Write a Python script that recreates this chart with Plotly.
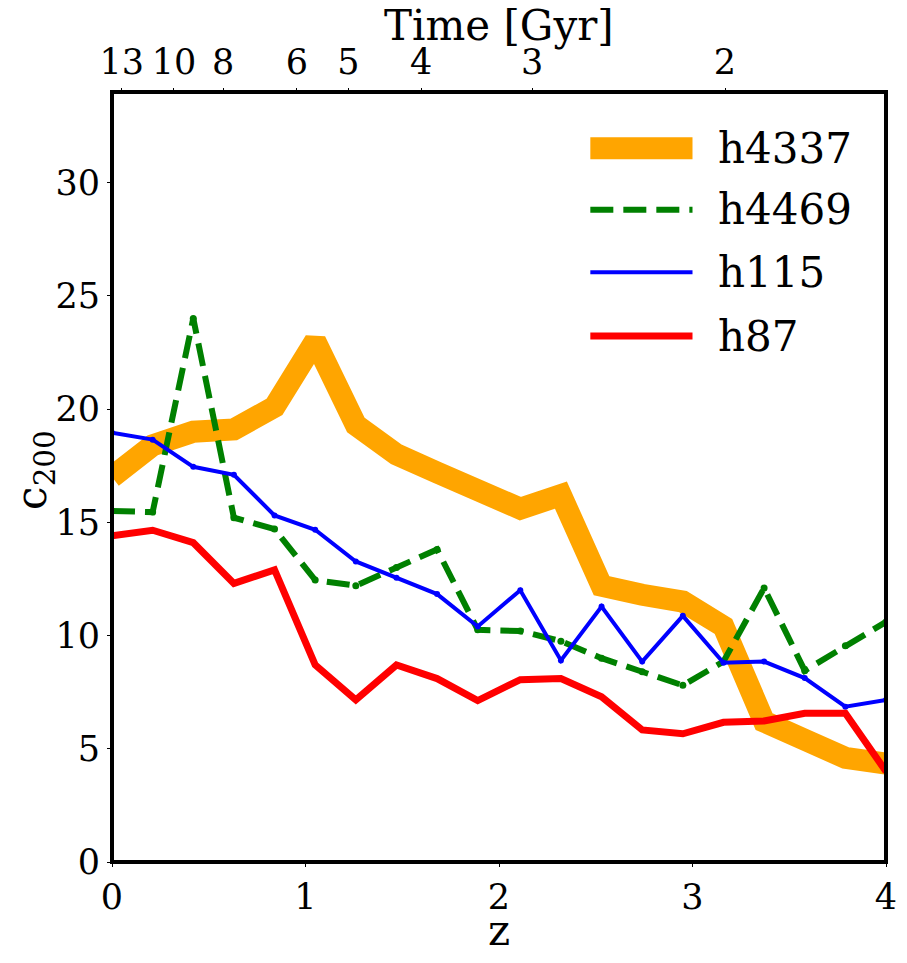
import plotly.graph_objects as go

# redshift of each snapshot
z = [0.0, 0.21, 0.42, 0.63, 0.84, 1.05, 1.26, 1.47, 1.68, 1.89,
     2.11, 2.32, 2.53, 2.74, 2.95, 3.16, 3.37, 3.58, 3.79, 4.0]

# concentration c200 for each halo
c_h4337 = [17.0, 18.4, 19.0, 19.1, 20.1, 23.0, 19.3, 18.0, 17.2, 16.4,
           15.6, 16.2, 12.2, 11.8, 11.5, 10.4, 6.2, 5.4, 4.6, 4.35]
c_h4469 = [15.5, 15.45, 24.0, 15.2, 14.7, 12.45, 12.2, 13.0, 13.8, 10.25,
           10.2, 9.75, 9.0, 8.4, 7.8, 8.85, 12.1, 8.45, 9.55, 10.6]
c_h115 = [18.95, 18.65, 17.45, 17.1, 15.3, 14.67, 13.27, 12.55, 11.83, 10.4,
          12.0, 8.9, 11.28, 8.85, 10.87, 8.8, 8.85, 8.12, 6.86, 7.15]
c_h87 = [14.4, 14.65, 14.1, 12.3, 12.9, 8.7, 7.16, 8.7, 8.1, 7.13,
         8.05, 8.1, 7.3, 5.83, 5.66, 6.17, 6.23, 6.57, 6.57, 4.0]

# top axis: cosmic time labels and the redshift where they sit
time_labels = ['13', '10', '8', '6', '5', '4', '3', '2']
time_z = [0.050, 0.320, 0.575, 0.955, 1.222, 1.597, 2.171, 3.168]

FONT = 'DejaVu Serif'

series = [
    ('h4337', c_h4337, dict(color='orange', width=22), None),
    ('h4469', c_h4469, dict(color='green', width=6, dash='23px,10px'), 7),
    ('h115', c_h115, dict(color='blue', width=4), 6),
    ('h87', c_h87, dict(color='red', width=7), None),
]

fig = go.Figure()
for name, vals, line, msize in series:
    fig.add_trace(go.Scatter(
        x=z, y=vals, name=name, line=line,
        mode='lines+markers' if msize else 'lines',
        marker=dict(size=msize or 1, color=line['color']),
        showlegend=False))

# invisible trace so the top axis gets drawn
fig.add_trace(go.Scatter(x=[0, 4], y=[None, None], xaxis='x2',
                         mode='lines', showlegend=False, hoverinfo='skip'))

# hand-made legend (long line samples like matplotlib)
shapes = []
annotations = []
leg_y = [0.927, 0.847, 0.766, 0.683]
for (name, vals, line, msize), yy in zip(series, leg_y):
    shapes.append(dict(type='line', xref='paper', yref='paper',
                       x0=0.618, x1=0.750, y0=yy, y1=yy,
                       line=dict(color=line['color'], width=line['width'],
                                 dash=line.get('dash', 'solid'))))
    annotations.append(dict(text=name, xref='paper', yref='paper',
                            x=0.781, y=yy, xanchor='left', yanchor='middle',
                            showarrow=False,
                            font=dict(family=FONT, size=42, color='black')))

# axis titles as annotations so they sit where matplotlib put them
title_font = dict(family=FONT, size=42, color='black')
annotations += [
    dict(text='Time [Gyr]', xref='paper', yref='paper', x=0.5, y=1.086,
         xanchor='center', yanchor='middle', showarrow=False, font=title_font),
    dict(text='z', xref='paper', yref='paper', x=0.5, y=-0.0895,
         xanchor='center', yanchor='middle', showarrow=False, font=title_font),
    dict(text='c<sub>200</sub>', xref='paper', yref='paper', x=-0.101, y=0.509,
         xanchor='center', yanchor='middle', textangle=-90, showarrow=False,
         font=title_font),
]

# black frame round the plot
shapes.append(dict(type='rect', xref='paper', yref='paper',
                   x0=0, x1=1, y0=0, y1=1, layer='above',
                   line=dict(color='black', width=4)))

# the page body adds 8px on top/left, so margins are trimmed by that
fig.update_layout(
    width=907, height=963,
    margin=dict(l=104, r=29, t=84, b=109),
    plot_bgcolor='white', paper_bgcolor='white',
    font=dict(family=FONT, size=35, color='black'),
    shapes=shapes, annotations=annotations,
    xaxis=dict(range=[0, 4], tickvals=[0, 1, 2, 3, 4], automargin=False,
               ticks='outside', ticklen=4, tickwidth=1, tickcolor='black',
               showgrid=False, zeroline=False,
               tickfont=dict(size=35)),
    xaxis2=dict(range=[0, 4], overlaying='x', side='top', automargin=False,
                tickvals=time_z, ticktext=time_labels,
                ticks='outside', ticklen=3, tickwidth=1, tickcolor='black',
                showgrid=False, zeroline=False,
                tickfont=dict(size=35)),
    yaxis=dict(range=[0, 34], tickvals=[0, 5, 10, 15, 20, 25, 30],
               automargin=False,
               ticks='outside', ticklen=4, tickwidth=1, tickcolor='black',
               showgrid=False, zeroline=False,
               tickfont=dict(size=35)),
)

fig.write_html("out.html")
